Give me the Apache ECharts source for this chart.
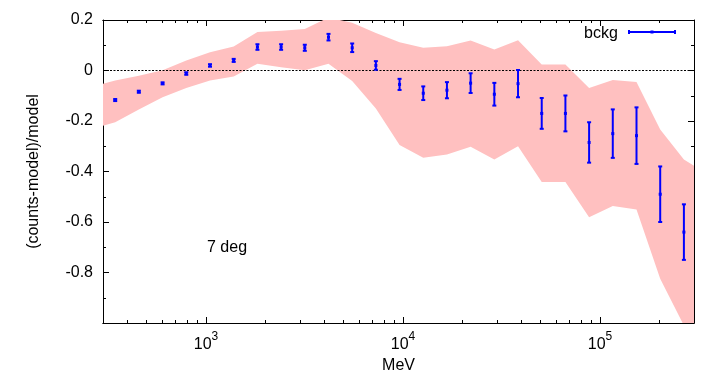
<!DOCTYPE html>
<html>
<head>
<meta charset="utf-8">
<script src="https://cdn.jsdelivr.net/npm/echarts@6/dist/echarts.min.js"></script>
<style>
  html, body { margin: 0; padding: 0; background: #fff; }
  #chart { width: 720px; height: 378px; }
</style>
</head>
<body>
<div id="chart"></div>
<script>
// bin centres in MeV
var energy = [346, 456, 602, 794, 1048, 1382, 1824, 2406, 3173, 4186, 5521, 7282, 9605,
  12670, 16710, 22040, 29080, 38360, 50600, 66740, 88040, 116100, 153200, 202100, 266600];
// (counts-model)/model and its error
var ratio = [-0.117, -0.084, -0.051, -0.012, 0.02, 0.04, 0.093, 0.093, 0.09, 0.132, 0.09, 0.02, -0.055,
  -0.09, -0.078, -0.05, -0.094, -0.052, -0.17, -0.17, -0.285, -0.25, -0.258, -0.49, -0.64];
var ratioErr = [0.004, 0.004, 0.004, 0.005, 0.005, 0.006, 0.011, 0.011, 0.012, 0.013, 0.017, 0.017, 0.022,
  0.027, 0.032, 0.039, 0.045, 0.054, 0.061, 0.071, 0.08, 0.096, 0.112, 0.11, 0.11];

// systematic band (pink), runs a bit past both ends of the axis
var bandEnergy = [262, 346, 456, 602, 794, 1048, 1382, 1824, 2406, 3173, 4186, 5521, 7282, 9605,
  12670, 16710, 22040, 29080, 38360, 50600, 66740, 88040, 116100, 153200, 202100, 266600, 351600];
var bandHigh = [-0.064, -0.04, -0.021, 0.001, 0.04, 0.072, 0.095, 0.152, 0.157, 0.164, 0.21, 0.189, 0.149, 0.112,
  0.09, 0.096, 0.119, 0.083, 0.12, 0.024, 0.024, -0.069, -0.038, -0.046, -0.234, -0.352, -0.412];
var bandLow = [-0.232, -0.205, -0.154, -0.106, -0.069, -0.04, -0.024, 0.027, 0.013, 0.001, 0.027, -0.042, -0.15, -0.295,
  -0.346, -0.333, -0.302, -0.352, -0.3, -0.442, -0.442, -0.581, -0.537, -0.55, -0.825, -1.01, -1.175];

var xMajor = [1000, 10000, 100000];
var xMinor = [400, 500, 600, 700, 800, 900, 2000, 3000, 4000, 5000, 6000, 7000, 8000, 9000,
  20000, 30000, 40000, 50000, 60000, 70000, 80000, 90000, 200000];

var FONT = 'Liberation Sans, Arial, sans-serif';
var BLUE = '#0000ff';

function renderBand(params, api) {
  if (params.dataIndex !== 0) return null;
  var pts = [];
  for (var i = 0; i < bandEnergy.length; i++) pts.push(api.coord([bandEnergy[i], bandHigh[i]]));
  for (var j = bandEnergy.length - 1; j >= 0; j--) pts.push(api.coord([bandEnergy[j], bandLow[j]]));
  return { type: 'polygon', shape: { points: pts }, style: { fill: '#ffc0c0' } };
}

function renderErr(params, api) {
  var x = api.value(0), y = api.value(1), e = api.value(2);
  var top = api.coord([x, y + e]);
  var bot = api.coord([x, y - e]);
  var mid = api.coord([x, y]);
  var st = { stroke: BLUE, lineWidth: 2 };
  return {
    type: 'group',
    children: [
      { type: 'line', shape: { x1: top[0], y1: top[1], x2: bot[0], y2: bot[1] }, style: st },
      { type: 'line', shape: { x1: top[0] - 2, y1: top[1], x2: top[0] + 2, y2: top[1] }, style: st },
      { type: 'line', shape: { x1: bot[0] - 2, y1: bot[1], x2: bot[0] + 2, y2: bot[1] }, style: st },
      { type: 'rect', shape: { x: mid[0] - 1.5, y: mid[1] - 1.5, width: 3, height: 3 }, style: { fill: BLUE } }
    ]
  };
}

function xAxisDef(pos, ticks, len, withLabel) {
  return {
    type: 'log',
    position: pos,
    min: 300,
    max: 300000,
    axisLine: { show: true, onZero: false, lineStyle: { color: '#000', width: 1 } },
    axisTick: { show: true, inside: true, length: len, customValues: ticks, lineStyle: { color: '#000' } },
    axisLabel: withLabel ? {
      show: true,
      customValues: ticks,
      margin: 8,
      formatter: function (v) {
        return '{b|10}{s|' + Math.round(Math.log10(v)) + '}';
      },
      rich: {
        b: { fontSize: 16, fontFamily: FONT, color: '#000', lineHeight: 22, verticalAlign: 'bottom' },
        s: { fontSize: 12, fontFamily: FONT, color: '#000', lineHeight: 14, verticalAlign: 'top' }
      }
    } : { show: false },
    splitLine: { show: false },
    minorTick: { show: false },
    name: withLabel ? 'MeV' : '',
    nameLocation: 'middle',
    nameGap: 35,
    nameTextStyle: { fontSize: 16, fontFamily: FONT, color: '#000' }
  };
}

function yAxisDef(pos, withLabel) {
  return {
    type: 'value',
    position: pos,
    min: -1,
    max: 0.2,
    interval: 0.2,
    axisLine: { show: true, onZero: false, lineStyle: { color: '#000', width: 1 } },
    axisTick: { show: true, inside: true, length: 6, lineStyle: { color: '#000' } },
    minorTick: { show: true, splitNumber: 2, length: 3, lineStyle: { color: '#000' } },
    axisLabel: withLabel ? {
      show: true,
      margin: 10,
      fontSize: 16,
      fontFamily: FONT,
      color: '#000',
      formatter: function (v) {
        if (Math.abs(v + 1) < 1e-6) return '';
        return String(Math.round(v * 10) / 10);
      }
    } : { show: false },
    splitLine: { show: false },
    name: withLabel ? '(counts-model)/model' : '',
    nameLocation: 'middle',
    nameRotate: 90,
    nameGap: 61,
    nameTextStyle: { fontSize: 16, fontFamily: FONT, color: '#000' }
  };
}

var chart = echarts.init(document.getElementById('chart'));
chart.setOption({
  animation: false,
  backgroundColor: '#fff',
  grid: { left: 103, right: 26, top: 20, bottom: 55, containLabel: false, outerBoundsMode: 'none' },
  xAxis: [
    xAxisDef('bottom', xMajor, 6, true),
    xAxisDef('bottom', xMinor, 3, false),
    xAxisDef('top', xMajor, 6, false),
    xAxisDef('top', xMinor, 3, false)
  ],
  yAxis: [
    yAxisDef('left', true),
    yAxisDef('right', false)
  ],
  series: [
    {
      name: 'band',
      type: 'custom',
      clip: true,
      renderItem: renderBand,
      encode: { x: 0, y: [1, 2] },
      data: bandEnergy.map(function (e, i) { return [e, bandLow[i], bandHigh[i]]; }),
      silent: true,
      z: 1
    },
    {
      name: 'zero',
      type: 'line',
      data: [[300, 0], [300000, 0]],
      symbol: 'none',
      lineStyle: { color: '#000', width: 1, type: [2, 1.5] },
      silent: true,
      z: 2
    },
    {
      name: 'bckg',
      type: 'custom',
      renderItem: renderErr,
      encode: { x: 0, y: 1 },
      data: energy.map(function (e, i) { return [e, ratio[i], ratioErr[i]]; }),
      z: 3
    }
  ],
  graphic: [
    { type: 'text', x: 584, y: 34, style: { text: 'bckg', fontSize: 16, fontFamily: FONT, fill: '#000', verticalAlign: 'middle' } },
    { type: 'line', shape: { x1: 629, y1: 32, x2: 675, y2: 32 }, style: { stroke: BLUE, lineWidth: 2 } },
    { type: 'line', shape: { x1: 629, y1: 30, x2: 629, y2: 34 }, style: { stroke: BLUE, lineWidth: 2 } },
    { type: 'line', shape: { x1: 675, y1: 30, x2: 675, y2: 34 }, style: { stroke: BLUE, lineWidth: 2 } },
    { type: 'rect', shape: { x: 650.5, y: 30.5, width: 3, height: 3 }, style: { fill: BLUE } },
    { type: 'text', x: 207, y: 248, style: { text: '7 deg', fontSize: 16, fontFamily: FONT, fill: '#000', verticalAlign: 'middle' } }
  ]
});
</script>
</body>
</html>
